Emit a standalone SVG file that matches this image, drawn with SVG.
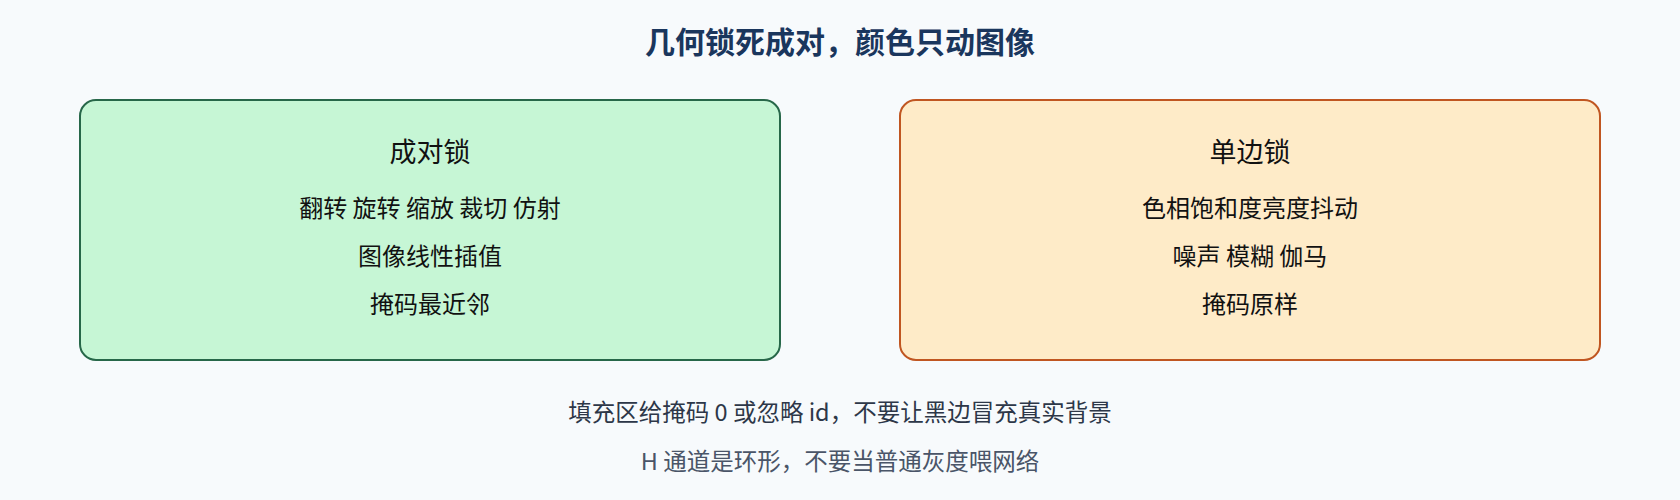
<svg xmlns="http://www.w3.org/2000/svg" width="1680" height="500" viewBox="0 0 1680 500">
<style>
text { font-family: "Noto Sans CJK SC", "Noto Sans", sans-serif; text-anchor: middle; }
.title { font-size: 30px; font-weight: 700; fill: #1a365d; }
.head { font-size: 27px; fill: #111111; }
.item { font-size: 24px; fill: #111111; }
.note1 { font-size: 23.5px; fill: #2d3748; }
.note2 { font-size: 23.5px; fill: #4a5568; }
.green { fill: #c6f6d5; stroke: #276749; stroke-width: 2; }
.orange { fill: #feebc8; stroke: #c05621; stroke-width: 2; }
</style>
<rect x="0" y="0" width="1680" height="500" fill="#f7fafc"/>
<text class="title" x="840" y="53">几何锁死成对，颜色只动图像</text>
<g id="node-pair">
<rect class="green" x="80" y="100" width="700" height="260" rx="16" ry="16"/>
<text class="head" x="430" y="162">成对锁</text>
<text class="item" x="430" y="217">翻转 旋转 缩放 裁切 仿射</text>
<text class="item" x="430" y="265">图像线性插值</text>
<text class="item" x="430" y="313">掩码最近邻</text>
</g>
<g id="node-single">
<rect class="orange" x="900" y="100" width="700" height="260" rx="16" ry="16"/>
<text class="head" x="1250" y="162">单边锁</text>
<text class="item" x="1250" y="217">色相饱和度亮度抖动</text>
<text class="item" x="1250" y="265">噪声 模糊 伽马</text>
<text class="item" x="1250" y="313">掩码原样</text>
</g>
<g id="connectors"></g>
<text class="note1" x="840" y="421">填充区给掩码 0 或忽略 id，不要让黑边冒充真实背景</text>
<text class="note2" x="840" y="470">H 通道是环形，不要当普通灰度喂网络</text>
</svg>
